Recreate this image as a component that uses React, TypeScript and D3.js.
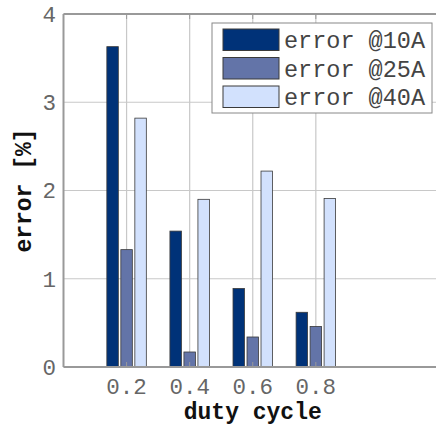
import React from "react";
import * as d3 from "d3";

const dutyCycles = [0.2, 0.4, 0.6, 0.8];
const seriesNames = ["error @10A", "error @25A", "error @40A"];
const error10A = [3.63, 1.54, 0.89, 0.62];
const error25A = [1.33, 0.17, 0.34, 0.46];
const error40A = [2.82, 1.9, 2.22, 1.91];
const seriesColors = ["#003278", "#6374a8", "#d2e1fd"];
const yTicks = [0, 1, 2, 3, 4];

const W = 436;
const H = 426;
const M = { left: 63.5, top: 14, bottom: 367 };

export default function App() {
  const x = d3.scaleLinear().domain([0, 1.2]).range([M.left, 442]);
  const y = d3.scaleLinear().domain([0, 4]).range([M.bottom, M.top]);
  const series = [error10A, error25A, error40A];
  const inner = d3
    .scaleBand<number>()
    .domain([0, 1, 2])
    .range([-21, 21])
    .paddingInner(0.18)
    .paddingOuter(0.09);
  const font = "'Liberation Mono', 'DejaVu Sans Mono', monospace";
  const right = W + 10;

  return (
    <svg
      width={W}
      height={H}
      style={{ position: "absolute", left: 0, top: 0, background: "#fff" }}
    >
      {/* grid */}
      {yTicks.map((t) => (
        <line
          key={"gy" + t}
          x1={M.left}
          x2={right}
          y1={y(t)}
          y2={y(t)}
          stroke="#c8c8c8"
          strokeWidth={1.2}
        />
      ))}
      {dutyCycles.map((d) => (
        <line
          key={"gx" + d}
          x1={x(d)}
          x2={x(d)}
          y1={M.top}
          y2={M.bottom}
          stroke="#c8c8c8"
          strokeWidth={1.2}
        />
      ))}
      {/* bars */}
      {series.map((vals, si) =>
        vals.map((v, i) => (
          <rect
            key={`b${si}-${i}`}
            x={x(dutyCycles[i]) + (inner(si) as number)}
            y={y(v)}
            width={inner.bandwidth()}
            height={y(0) - y(v)}
            fill={seriesColors[si]}
            stroke="#3a3a3a"
            strokeWidth={0.8}
          />
        ))
      )}
      {/* axes */}
      <line x1={M.left} x2={M.left} y1={M.top} y2={M.bottom} stroke="#999" strokeWidth={2} />
      <line x1={M.left} x2={right} y1={M.bottom} y2={M.bottom} stroke="#999" strokeWidth={2} />
      <line x1={M.left} x2={right} y1={M.top} y2={M.top} stroke="#999" strokeWidth={2} />
      {dutyCycles.map((d) => (
        <g key={"tk" + d}>
          <line x1={x(d)} x2={x(d)} y1={M.top} y2={M.top + 5} stroke="#999" strokeWidth={1} />
          <line x1={x(d)} x2={x(d)} y1={M.bottom} y2={M.bottom - 5} stroke="#999" strokeWidth={1} />
        </g>
      ))}
      {yTicks.map((t) => (
        <text
          key={"yl" + t}
          x={56}
          y={y(t)}
          dy="0.35em"
          textAnchor="end"
          fontFamily={font}
          fontSize={22.5}
          fill="#666"
        >
          {t}
        </text>
      ))}
      {dutyCycles.map((d) => (
        <text
          key={"xl" + d}
          x={x(d)}
          y={394}
          textAnchor="middle"
          fontFamily={font}
          fontSize={22.5}
          fill="#666"
        >
          {d.toFixed(1)}
        </text>
      ))}
      <text
        x={(M.left + 442) / 2}
        y={419}
        textAnchor="middle"
        fontFamily={font}
        fontSize={23}
        fontWeight="bold"
        fill="#111"
      >
        duty cycle
      </text>
      <text
        transform={`translate(31,${(M.top + M.bottom) / 2}) rotate(-90)`}
        textAnchor="middle"
        fontFamily={font}
        fontSize={23}
        fontWeight="bold"
        fill="#111"
      >
        error [%]
      </text>
      {/* legend */}
      <rect x={212} y={23} width={220} height={90} fill="#fff" stroke="#888" strokeWidth={1} />
      {seriesNames.map((n, i) => (
        <g key={"lg" + i} transform={`translate(223,${29 + i * 28.5})`}>
          <rect width={56} height={21.5} fill={seriesColors[i]} stroke="#3a3a3a" strokeWidth={1} />
          <text
            x={61}
            y={11}
            dy="0.35em"
            fontFamily={font}
            fontSize={23.5}
            fill="#444"
          >
            {n}
          </text>
        </g>
      ))}
    </svg>
  );
}
